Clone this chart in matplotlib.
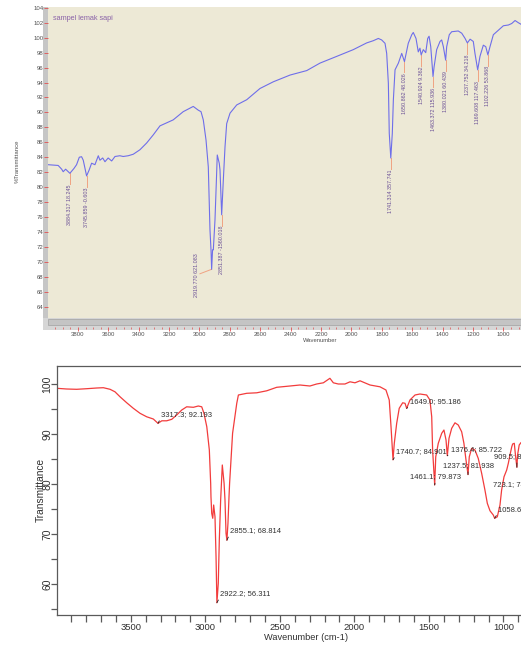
import matplotlib
matplotlib.use('Agg')
import matplotlib.pyplot as plt
from matplotlib.patches import Rectangle
from matplotlib.ticker import MultipleLocator, FixedLocator

# ---------------- data: top spectrum (sampel lemak sapi) ----------------
top_wn = [3996, 3930, 3907, 3897, 3881, 3853, 3826, 3809, 3791, 3776, 3765, 3743,
          3726, 3710, 3688, 3666, 3655, 3637, 3622, 3601, 3578, 3556, 3524, 3502,
          3469, 3436, 3392, 3348, 3304, 3260, 3173, 3107, 3041, 3008, 2990, 2975,
          2957, 2942, 2931, 2924, 2920, 2914, 2909, 2898, 2887, 2883, 2870, 2865,
          2854, 2843, 2832, 2821, 2799, 2755, 2689, 2602, 2514, 2404, 2294, 2207,
          2097, 1988, 1900, 1856, 1823, 1801, 1779, 1768, 1757, 1751, 1741, 1731,
          1724, 1713, 1691, 1669, 1651, 1626, 1603, 1593, 1575, 1560, 1549, 1541,
          1527, 1511, 1498, 1489, 1478, 1463, 1456, 1439, 1417, 1406, 1395, 1380,
          1373, 1356, 1340, 1297, 1274, 1252, 1237, 1219, 1198, 1187, 1169, 1154,
          1132, 1116, 1102, 1088, 1066, 1033, 1000, 967, 945, 923, 901, 884]
top_T = [83.0, 82.9, 82.4, 82.06, 82.4, 81.85, 82.5, 83.0, 84.0, 84.07, 83.6, 81.5,
         82.3, 83.2, 83.0, 84.2, 83.6, 83.9, 83.4, 83.9, 83.5, 84.1, 84.2, 84.1,
         84.2, 84.4, 85.0, 85.9, 87.0, 88.2, 89.0, 90.1, 90.8, 90.3, 90.1, 89.0,
         86.3, 82.7, 74.3, 71.5, 69.0, 71.6, 71.6, 75.6, 81.9, 84.3, 83.2, 82.3,
         76.3, 81.0, 85.4, 88.5, 89.9, 91.0, 91.7, 93.2, 94.1, 95.0, 95.6, 96.6,
         97.5, 98.4, 99.3, 99.6, 99.9, 99.7, 99.25, 97.9, 93.9, 87.2, 83.9, 87.2,
         91.7, 95.7, 96.6, 97.9, 96.8, 99.25, 100.4, 100.7, 99.9, 98.1, 98.6, 97.7,
         98.4, 98.0, 99.9, 100.2, 98.8, 94.8, 96.1, 98.4, 99.5, 99.7, 98.8, 97.0,
         98.8, 100.4, 100.8, 100.9, 100.6, 99.9, 99.3, 99.8, 99.5, 97.9, 95.7, 97.5,
         99.0, 98.8, 97.7, 98.8, 100.4, 101.0, 101.6, 101.7, 101.9, 102.3, 102.0, 101.8]

top_peak_wn = [3853, 3743, 2920, 2854, 1741, 1651, 1541, 1463, 1380, 1237, 1169, 1102]
top_peak_T = [81.85, 81.5, 69.0, 76.3, 83.9, 96.8, 97.7, 94.8, 97.0, 99.3, 95.7, 97.7]
top_peak_text = ['3884.317 18.245', '3745.859 -0.603', '2919.770 621.083',
                 '2851.387 -1560.018', '1741.314 357.741', '1650.862 48.026',
                 '1540.924 9.362', '1463.372 115.936', '1380.021 60.439',
                 '1237.752 34.218', '1169.608 117.463', '1102.226 53.868']

top_yticks = list(range(64, 105, 2))
top_xticks = list(range(1000, 3801, 200))

# ---------------- data: bottom spectrum ----------------
bot_wn = [3997, 3930, 3863, 3795, 3728, 3684, 3639, 3606, 3572, 3527, 3483, 3438,
          3393, 3349, 3317.3, 3292, 3259, 3225, 3192, 3158, 3125, 3080, 3047, 3024,
          3009, 2990, 2973, 2964, 2962, 2957, 2950, 2944, 2935, 2928, 2922.2, 2913,
          2906, 2897, 2886, 2874, 2868, 2861, 2855.1, 2848, 2841, 2837, 2817, 2789,
          2778, 2722, 2655, 2588, 2521, 2432, 2365, 2298, 2253, 2208, 2164, 2141,
          2108, 2063, 2029, 1996, 1962, 1895, 1828, 1788, 1766, 1754, 1740.7, 1732,
          1716, 1699, 1676, 1660, 1649.0, 1627, 1593, 1560, 1515, 1493, 1481, 1475,
          1461.1, 1454, 1437, 1414, 1399, 1385, 1376.4, 1365, 1347, 1325, 1303, 1280,
          1265, 1251, 1237.5, 1229, 1213, 1191, 1169, 1146, 1124, 1108, 1090, 1068,
          1058.6, 1041, 1023, 1012, 996, 978, 967, 956, 944, 938, 927, 918, 909.5,
          905, 894, 883]
bot_T = [99.2, 99.06, 99.0, 99.12, 99.26, 99.32, 99.0, 98.5, 97.5, 96.3, 95.2, 94.2,
         93.5, 93.06, 92.193, 92.7, 92.7, 93.0, 93.86, 94.86, 95.5, 95.4, 95.66, 95.5,
         94.2, 91.5, 86.86, 80.2, 77.5, 74.2, 73.2, 75.86, 73.5, 65.5, 56.311, 60.2,
         68.9, 76.9, 83.86, 80.2, 76.9, 70.2, 68.814, 72.2, 77.5, 80.2, 90.2, 96.2,
         97.86, 98.2, 98.3, 98.7, 99.4, 99.66, 99.86, 99.66, 100.06, 100.3, 101.2, 100.3,
         100.06, 100.06, 100.5, 100.3, 100.7, 99.86, 99.5, 98.86, 96.86, 91.5, 84.901, 88.2,
         92.2, 95.2, 96.3, 96.2, 95.186, 96.86, 97.86, 98.06, 97.86, 96.86, 93.5, 86.86,
         79.873, 85.5, 88.2, 90.2, 90.86, 88.86, 85.722, 89.2, 91.2, 92.3, 91.86, 90.5,
         88.2, 84.86, 81.938, 85.5, 87.2, 86.86, 85.2, 82.2, 78.86, 76.2, 74.7, 73.86,
         73.204, 73.5, 75.86, 78.86, 81.5, 82.86, 84.2, 85.86, 87.5, 88.06, 88.2, 85.5, 83.412,
         85.86, 87.86, 88.3]

bot_peak_wn = [3317.3, 2922.2, 2855.1, 1740.7, 1649.0, 1461.1, 1376.4, 1237.5, 1058.6, 909.5]
bot_peak_T = [92.193, 56.311, 68.814, 84.901, 95.186, 79.873, 85.722, 81.938, 73.204, 83.412]
bot_extra_label = ('723.1; 74.615', 1072, 79.86)

bot_xticks = [3500, 3000, 2500, 2000, 1500, 1000]
bot_yticks = [60, 70, 80, 90, 100]

# ---------------- figure ----------------
W, H = 521, 646
fig = plt.figure(figsize=(W / 100, H / 100), dpi=100)
PT = 72 / 100.0  # points per pixel


def fx(px):
    return px / W


def fy(py):
    return 1 - py / H


# ---------- top panel ----------
fig.add_artist(Rectangle((fx(43), fy(330)), fx(5), (330 - 7) / H, transform=fig.transFigure,
                         facecolor='#c6c6c6', edgecolor='none', zorder=-2))
fig.add_artist(Rectangle((fx(43), fy(330)), fx(521 - 43), 12 / H, transform=fig.transFigure,
                         facecolor='#d6d6d6', edgecolor='none', zorder=-2))
fig.add_artist(Rectangle((fx(48), fy(325)), fx(521 - 48), 6.5 / H, transform=fig.transFigure,
                         facecolor='#c4c4c4', edgecolor='#a9a9a9', linewidth=0.6, zorder=-1))

ax1 = fig.add_axes([fx(48), fy(318), fx(521 - 48), (318 - 7) / H])
ax1.set_facecolor('#ede9d6')
ax1.plot(top_wn, top_T, color='#6e6eea', lw=0.8, zorder=3)
ax1.set_xlim(3997, 884)
ax1.set_ylim(62.48, 104.11)
for s in ['top', 'right', 'left']:
    ax1.spines[s].set_visible(False)
ax1.spines['bottom'].set_position(('outward', 9 * PT))
ax1.spines['bottom'].set_color('none')
ax1.set_yticks(top_yticks)
ax1.set_yticklabels([str(v) for v in top_yticks])
ax1.xaxis.set_major_locator(FixedLocator(top_xticks))
ax1.xaxis.set_minor_locator(MultipleLocator(50))
ax1.tick_params(axis='y', direction='out', length=4 * PT * 1.0, width=0.6, color='#e05050',
                labelsize=4.3, labelcolor='#505050', pad=0.5)
ax1.tick_params(axis='x', which='major', direction='out', length=3.5 * PT, width=0.6,
                color='#e05050', labelsize=4.3, labelcolor='#505050', pad=1.2)
ax1.tick_params(axis='x', which='minor', direction='out', length=2 * PT, width=0.5,
                color='#e05050')
for lab in ax1.get_xticklabels() + ax1.get_yticklabels():
    lab.set_family('Liberation Sans')

ax1.text(0.011, 0.962, 'sampel lemak sapi', transform=ax1.transAxes, ha='left', va='center',
         fontsize=5.2, color='#8a62a8', family='Liberation Sans')
fig.text(fx(17.5), fy(161.7), '%Transmittance', rotation=90, ha='center', va='center',
         fontsize=4.3, color='#505050', family='Liberation Sans')
fig.text(fx(320.5), fy(341), 'Wavenumber', ha='center', va='center',
         fontsize=4.2, color='#505050', family='Liberation Sans')

lead_col = '#f0a282'
lab_col = '#6a4f96'
for w, t, s in zip(top_peak_wn, top_peak_T, top_peak_text):
    if s.startswith('2919'):
        ax1.plot([w, 2997], [t, 68.4], color=lead_col, lw=0.7, zorder=2)
        ax1.text(3017, 68.2, s, rotation=90, ha='center', va='center', fontsize=3.9,
                 color=lab_col, family='Liberation Sans')
    else:
        end = t - 1.45
        ax1.plot([w, w], [t, end], color=lead_col, lw=0.7, zorder=2)
        ax1.text(w, end - 0.05, s, rotation=90, ha='center', va='top', fontsize=3.9,
                 color=lab_col, family='Liberation Sans')

# ---------- bottom panel ----------
ax2 = fig.add_axes([fx(57), fy(615), fx(521 - 57), (615 - 365.7) / H])
ax2.plot(bot_wn, bot_T, color='#f23c3c', lw=0.9)
ax2.set_xlim(3995, 882)
ax2.set_ylim(53.86, 103.72)
ax2.spines['right'].set_visible(False)
for s in ['top', 'left', 'bottom']:
    ax2.spines[s].set_color('#5a5a5a')
    ax2.spines[s].set_linewidth(0.9)
ax2.xaxis.set_major_locator(FixedLocator(bot_xticks))
ax2.xaxis.set_minor_locator(MultipleLocator(100))
ax2.yaxis.set_major_locator(FixedLocator(bot_yticks))
ax2.yaxis.set_minor_locator(MultipleLocator(5))
ax2.tick_params(axis='both', which='both', direction='out', length=6.5 * PT, width=0.9,
                color='#5a5a5a')
ax2.tick_params(axis='x', which='major', labelsize=6.8, labelcolor='#303030', pad=0.8)
ax2.tick_params(axis='y', which='major', labelsize=7.5, labelcolor='#303030', pad=-1.5)
for lab in ax2.get_xticklabels():
    lab.set_family('Liberation Sans')
for lab in ax2.get_yticklabels():
    lab.set_family('Liberation Sans')
    lab.set_rotation(90)
    lab.set_va('center')

fig.text(fx(41), fy(490), 'Transmittance', rotation=90, ha='center', va='center',
         fontsize=7.3, color='#303030', family='Liberation Sans')
fig.text(fx(306), fy(638), 'Wavenumber (cm-1)', ha='center', va='center',
         fontsize=6.7, color='#303030', family='Liberation Sans')

# label offsets in pixels (dx, dy, alignment)
offsets = [(2.7, 8.8, 'left'), (3, 9, 'left'), (2.7, 9.4, 'left'), (3, 8.3, 'left'),
           (3.7, 7, 'left'), (0.7, 8, 'center'), (3.4, 6, 'left'), (0, 9, 'center'),
           (3.3, 9, 'left'), (0, 10.6, 'center')]
for w, t, (dx, dy, ha) in zip(bot_peak_wn, bot_peak_T, offsets):
    rel = (0.0, 0.0) if ha == 'left' else (0.5, 0.0)
    ax2.annotate(f'{w:.1f}; {t:.3f}', xy=(w, t), xytext=(dx, dy), textcoords='offset pixels',
                 ha=ha, va='center', fontsize=5.5, color='#303030', family='Liberation Sans',
                 arrowprops=dict(arrowstyle='-', lw=0.6, color='#202020', shrinkA=0,
                                 shrinkB=0, relpos=rel))
ax2.text(bot_extra_label[1], bot_extra_label[2], bot_extra_label[0], ha='left', va='center',
         fontsize=5.5, color='#303030', family='Liberation Sans')

fig.savefig('out.png', dpi=100)
